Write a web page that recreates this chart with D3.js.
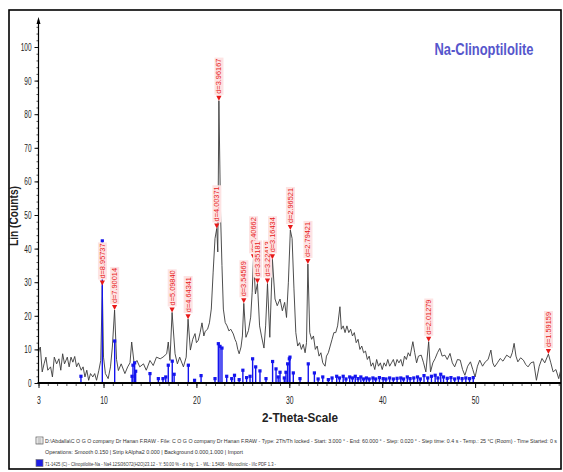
<!DOCTYPE html>
<html>
<head>
<meta charset="utf-8">
<script src="https://cdn.jsdelivr.net/npm/d3@7/dist/d3.min.js"></script>
<style>
  html, body { margin: 0; padding: 0; background: #ffffff; }
  svg { display: block; }
</style>
</head>
<body>
<svg id="chart" width="563" height="472"></svg>
<script>
// ---- Data ----
const theta = [3.0,3.1,3.2,3.4,3.6,3.8,4.0,4.3,4.5,4.7,4.95,5.2,5.4,5.6,5.8,6.1,6.3,6.5,6.7,6.9,7.1,7.3,7.6,7.8,8.0,8.2,8.4,8.6,8.85,9.05,9.25,9.5,9.7,9.87,10.0,10.2,10.5,10.75,10.95,11.19,11.4,11.6,11.9,12.3,12.6,12.85,13.03,13.3,13.6,13.9,14.3,14.6,15.0,15.35,15.7,16.1,16.4,16.8,16.97,17.15,17.38,17.7,17.95,18.2,18.6,18.9,19.1,19.35,19.6,19.85,20.0,20.2,20.4,20.6,20.8,20.95,21.2,21.4,21.6,21.8,22.0,22.19,22.3,22.42,22.6,22.75,22.9,23.1,23.3,23.5,23.7,23.97,24.15,24.3,24.45,24.6,24.8,24.95,25.1,25.33,25.6,25.84,26.0,26.14,26.35,26.57,26.8,27.0,27.27,27.45,27.65,27.9,28.18,28.46,28.7,29.0,29.25,29.5,29.7,29.9,30.11,30.3,30.5,30.7,30.9,31.1,31.3,31.5,31.7,31.85,32.0,32.2,32.4,32.6,32.8,33.0,33.2,33.4,33.6,33.85,34.0,34.2,34.4,34.6,34.8,35.0,35.2,35.45,35.6,35.8,36.0,36.2,36.4,36.6,36.8,37.0,37.2,37.4,37.6,37.8,38.0,38.2,38.4,38.6,38.8,39.0,39.2,39.4,39.6,39.8,40.0,40.2,40.4,40.6,40.8,41.0,41.2,41.4,41.6,41.8,42.0,42.2,42.4,42.6,42.8,43.0,43.3,43.5,43.7,43.9,44.2,44.45,44.7,45.0,45.2,45.45,45.7,45.95,46.2,46.45,46.75,47.0,47.3,47.55,47.8,48.1,48.4,48.65,48.9,49.2,49.5,49.75,50.0,50.25,50.5,50.8,51.1,51.4,51.7,51.9,52.1,52.4,52.7,53.0,53.4,53.8,54.0,54.2,54.4,54.6,54.9,55.2,55.45,55.7,56.0,56.3,56.6,56.9,57.2,57.5,57.89,58.15,58.4,58.7,59.0,59.3,59.6,60.0];
const counts = [9,10.2,10.7,3.3,5.7,7.7,3.8,4.8,1.8,7.7,5.7,7.2,3.8,8.7,5.7,7.7,4.8,7.7,6.2,7.9,4.8,6,3.8,4.8,1.8,3.8,0.8,2.8,1.8,2.8,0.8,3.8,6.7,29,7.7,2.8,1.3,4.8,10.7,21.7,7,3.7,5.7,2.8,4.8,6,12.2,5.7,6.7,4.8,5.7,3.8,6.7,5.2,7.7,7.2,7.7,8.7,12.2,6.7,21,8.7,5.7,7.7,4.8,7.7,19,9.8,13,14.7,12,12.7,15,17.9,14,15.4,16,17.9,22,33,43,46,39,84,50,35,22,18,17,15.5,16,14.6,13,12.1,10,8.7,10.7,14,23.7,13.6,15.6,19.6,27,36.8,26.5,29.6,17,14,10.4,17,29.6,13.6,36.8,25,23,25,21.5,24,19.5,30,45.5,43,28,15,11,12,10,11.5,9,12,35.4,15,13,14,10,11,8,9,6,5,8,9,11,13,15,15,17,22.7,16,17,15,17,15,16,14,15,12,13,10,11,9,9.5,7,8,5,6,4,7,5,6,4,6,5,7,5,6,7,5,7,6,7,5,8,7,9,8,12.3,9,6,8,8.3,6,3.3,12.3,3.3,6,7.3,9,10.3,8,8.3,7,8.8,6,4.8,7,6.8,4,2.3,5,6.3,4,1.8,5,6.8,5,6.3,7,9.8,6,4.8,6,7.3,6.5,8.3,7.5,9,11.8,8,6.3,7.5,6.8,5.5,4.8,6,6.3,0.8,5,7.3,6,8.6,6,3.3,4,1.3,4.8,3,4];

// reference pattern 71-1425 Clinoptilolite-Na (stick positions and heights)
const stickTheta = [7.57,9.87,11.2,13.07,13.17,13.35,13.46,15.0,15.9,16.4,16.7,16.97,17.4,17.6,19.13,19.8,20.5,22.0,22.36,22.54,22.75,23.26,23.8,24.1,24.6,25.0,25.4,25.77,26.05,26.38,26.84,27.49,28.2,28.57,28.8,29.0,29.46,29.64,29.82,30.0,30.07,30.43,31.15,32.04,32.7,33.1,33.6,34.2,34.6,35.1,35.4,35.8,36.1,36.5,36.8,37.1,37.4,37.7,38.0,38.3,38.6,39.0,39.3,39.7,40.1,40.4,40.8,41.2,41.6,42.0,42.3,42.7,43.0,43.4,43.8,44.1,44.5,44.9,45.3,45.7,46.0,46.3,46.6,47.0,47.4,47.8,48.2,48.6,49.0,49.4,49.8];
const stickCounts = [2,42.3,12.5,2,5.3,6,3.5,2.8,1.3,1.3,1.8,5.3,6.5,2.6,5.3,0.8,2.2,1.3,11.7,10.9,10.4,2,1.3,2.3,1,3.8,1.6,2,7.2,4.8,3.6,1.3,6.4,4.2,1.8,3.2,1.5,3.2,5.7,7.2,7.7,3,1.3,5.7,3,1.2,1.8,1,1.5,2,1.5,2,1.2,1.8,1.5,2,1.3,1.8,1.2,1.5,1.2,1.5,1.2,1.6,1.3,1.2,1.5,1.2,1.4,1.5,1.2,1.8,1.3,1.5,1.8,1.2,2.2,1.5,2,2.3,1.5,2.6,1.8,1.4,1.6,1.2,1.5,1.3,1.5,1.3,1.6];

// peak labels (d-spacings) and their positions on the trace
const peakLabels = ["d=8.95737","d=7.90014","d=5.09840","d=4.64341","d=4.00371","d=3.96167","d=3.54569","d=3.40662","d=3.35181","d=3.22413","d=3.16434","d=2.96521","d=2.79421","d=2.01279","d=1.59159"];
const peakTheta = [9.87,11.19,17.38,19.1,22.19,22.42,25.1,26.14,26.57,27.65,28.18,30.11,32.0,45.0,57.89];
const peakCounts = [29,21.7,21,19,46,84,23.7,36.8,29.6,29.6,36.8,45.5,35.4,12.3,8.6];

const xTickLabels = [3,10,20,30,40,50];
const yTickLabels = [0,10,20,30,40,50,60,70,80,90,100];

const titleText = "Na-Clinoptilolite";
const xTitle = "2-Theta-Scale";
const yTitle = "Lin (Counts)";
const infoLine1 = "D:\\Abdalla\\C O G O company Dr Hanan F.RAW - File: C O G O company Dr Hanan F.RAW - Type: 2Th/Th locked - Start: 3.000 ° - End: 60.000 ° - Step: 0.020 ° - Step time: 0.4 s - Temp.: 25 °C (Room) - Time Started: 0 s";
const infoLine2 = "Operations: Smooth 0.150 | Strip kAlpha2 0.000 | Background 0.000,1.000 | Import";
const infoLine3 = "71-1425 (C) - Clinoptilolite-Na - Na4.12Si36O72(H2O)23.12 - Y: 50.00 % - d x by: 1. - WL: 1.5406 - Monoclinic - I/Ic PDF 1.3 -";

// ---- Drawing ----
const FONT = "Liberation Sans, Arial, sans-serif";
const svg = d3.select("#chart");
const x = d3.scaleLinear().domain([3, 60]).range([38.5, 568]);
const y = d3.scaleLinear().domain([0, 100]).range([383, 47]);

// outer frame
svg.append("rect").attr("x", 9).attr("y", 10).attr("width", 552).attr("height", 459)
  .attr("fill", "none").attr("stroke", "#000").attr("stroke-width", 1.6);

// clip
svg.append("clipPath").attr("id", "clip").append("rect")
  .attr("x", 38).attr("y", 15).attr("width", 523).attr("height", 370);

// trace
const line = d3.line().x((d, i) => x(theta[i])).y((d, i) => y(counts[i]));
svg.append("path").datum(counts).attr("d", line)
  .attr("fill", "none").attr("stroke", "#3a3a3a").attr("stroke-width", 0.9)
  .attr("clip-path", "url(#clip)");

// sticks
const sticks = svg.append("g").attr("clip-path", "url(#clip)");
sticks.selectAll("line").data(stickTheta).join("line")
  .attr("x1", d => x(d)).attr("x2", d => x(d))
  .attr("y1", y(0)).attr("y2", (d, i) => y(stickCounts[i]))
  .attr("stroke", "#1414ee").attr("stroke-width", 1.4);
sticks.selectAll("rect").data(stickTheta).join("rect")
  .attr("x", d => x(d) - 1.6).attr("y", (d, i) => y(stickCounts[i]) - 1.6)
  .attr("width", 3.2).attr("height", 3.2).attr("fill", "#1414ee");

// peak markers + labels
const pk = svg.append("g").selectAll("g").data(peakLabels).join("g")
  .attr("transform", (d, i) => `translate(${x(peakTheta[i])},${y(peakCounts[i])})`);
pk.append("path").attr("d", "M-2.6,-5 L2.6,-5 L0,0 Z").attr("fill", "#e81818");
const lab = pk.append("g").attr("transform", "rotate(-90)");
lab.append("rect").attr("fill", "#fde3e3");
const txt = lab.append("text").attr("x", 7).attr("y", 0).attr("dy", "0.35em")
  .attr("font-family", FONT).attr("font-size", 7.4)
  .attr("fill", "#e81818").text(d => d);
txt.each(function () {
  const b = this.getBBox();
  d3.select(this.previousSibling).attr("x", b.x - 1).attr("y", b.y).attr("width", b.width + 2).attr("height", b.height);
});

// y axis
const yAxisG = svg.append("g").attr("transform", "translate(38.5,0)");
yAxisG.append("g").call(d3.axisLeft(y).tickValues(d3.range(0, 108, 2)).tickSize(2).tickFormat(""))
  .call(g => g.select(".domain").remove())
  .call(g => g.selectAll("line").attr("stroke", "#222").attr("stroke-width", 0.8));
yAxisG.append("g").call(d3.axisLeft(y).tickValues(yTickLabels).tickSize(4).tickPadding(3))
  .call(g => g.select(".domain").remove())
  .call(g => g.selectAll("line").attr("stroke", "#111"))
  .call(g => g.selectAll("text").attr("font-family", FONT).attr("font-size", 11).attr("fill", "#222")
    .attr("textLength", d => String(d).length * 3.6).attr("lengthAdjust", "spacingAndGlyphs"));
yAxisG.append("line").attr("x1", 0).attr("x2", 0).attr("y1", y(0)).attr("y2", 20)
  .attr("stroke", "#000").attr("stroke-width", 1.2);
yAxisG.append("path").attr("d", "M-2,24 L0,17 L2,24 Z").attr("fill", "#000");

// x axis
const xAxisG = svg.append("g").attr("transform", `translate(0,${y(0)})`);
xAxisG.append("g").call(d3.axisBottom(x).tickValues(d3.range(3, 60, 1)).tickSize(3).tickFormat(""))
  .call(g => g.select(".domain").remove())
  .call(g => g.selectAll("line").attr("stroke", "#333").attr("stroke-width", 0.8));
xAxisG.append("g").call(d3.axisBottom(x).tickValues(xTickLabels).tickSize(5).tickPadding(8))
  .call(g => g.select(".domain").remove())
  .call(g => g.selectAll("line").attr("stroke", "#111"))
  .call(g => g.selectAll("text").attr("font-family", FONT).attr("font-size", 11).attr("fill", "#222")
    .attr("textLength", d => String(d).length * 3.8).attr("lengthAdjust", "spacingAndGlyphs"));
xAxisG.append("line").attr("x1", 37.5).attr("x2", 561).attr("y1", 0).attr("y2", 0)
  .attr("stroke", "#000").attr("stroke-width", 2);

// titles
svg.append("text").attr("x", 300).attr("y", 422)
  .attr("text-anchor", "middle").attr("font-family", FONT).attr("font-size", 12.5).attr("font-weight", "bold")
  .attr("fill", "#222").attr("textLength", 76).attr("lengthAdjust", "spacingAndGlyphs").text(xTitle);
svg.append("text")
  .attr("transform", "translate(18,216) rotate(-90)")
  .attr("text-anchor", "middle").attr("font-family", FONT).attr("font-size", 12.5).attr("font-weight", "bold")
  .attr("fill", "#222").attr("textLength", 60).attr("lengthAdjust", "spacingAndGlyphs").text(yTitle);
svg.append("text").attr("x", 484).attr("y", 55)
  .attr("text-anchor", "middle").attr("font-family", FONT).attr("font-size", 16).attr("font-weight", "bold")
  .attr("fill", "#5656cc").attr("textLength", 99).attr("lengthAdjust", "spacingAndGlyphs")
  .text(titleText);

// info lines
const info = svg.append("g").attr("font-family", FONT).attr("fill", "#333");
info.append("rect").attr("x", 36).attr("y", 437).attr("width", 7).attr("height", 7)
  .attr("fill", "#fff").attr("stroke", "#555").attr("stroke-width", 0.7);
info.append("path").attr("d", "M37.5,439 h4 M37.5,441 h4 M37.5,443 h4").attr("stroke", "#555").attr("stroke-width", 0.6);
info.append("text").attr("x", 45).attr("y", 443).attr("font-size", 4.9).attr("textLength", 512)
  .attr("lengthAdjust", "spacingAndGlyphs").text(infoLine1);
info.append("text").attr("x", 45).attr("y", 454).attr("font-size", 5.2).attr("textLength", 198)
  .attr("lengthAdjust", "spacingAndGlyphs").text(infoLine2);
info.append("rect").attr("x", 36).attr("y", 459.5).attr("width", 7).attr("height", 7)
  .attr("fill", "#1e1ee6").attr("stroke", "#777").attr("stroke-width", 0.7);
info.append("text").attr("x", 45).attr("y", 466).attr("font-size", 5.2).attr("textLength", 231)
  .attr("lengthAdjust", "spacingAndGlyphs").text(infoLine3);
</script>
</body>
</html>
